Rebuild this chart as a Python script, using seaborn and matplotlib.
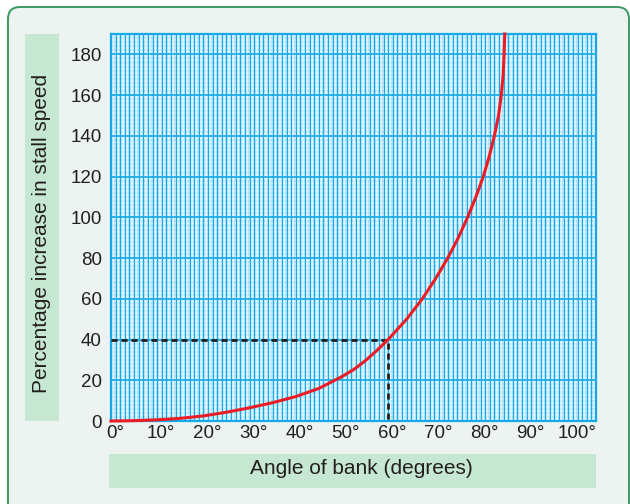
import numpy as np
import pandas as pd
import matplotlib
matplotlib.use("Agg")
import matplotlib.pyplot as plt
import seaborn as sns
from matplotlib.patches import FancyBboxPatch, Rectangle
from matplotlib.transforms import ScaledTranslation, IdentityTransform

# ---- data ----
bank_angle = [0, 5, 10, 15, 20, 25, 30, 35, 40, 45, 50, 52.5, 55, 57.5, 60,
              64.0, 67.4, 70.3, 72.9, 75.2, 77.2, 79.0, 80.6, 81.9, 83.0,
              83.9, 84.5, 84.9, 85.1, 85.25]
stall_increase = [0, 0.15, 0.6, 1.3, 2.5, 4.3, 6.5, 9.0, 12.0, 16.0, 21.8, 25.2,
                  29.5, 34.5, 40, 50, 60, 70, 80, 90, 100, 110, 120, 130, 140,
                  150, 160, 170, 180, 190]
ref_angle = 60
ref_increase = 40
x_ticks = [0, 10, 20, 30, 40, 50, 60, 70, 80, 90, 100]
x_tick_labels = ["0°", "10°", "20°", "30°", "40°", "50°", "60°", "70°", "80°", "90°", "100°"]
y_ticks = [0, 20, 40, 60, 80, 100, 120, 140, 160, 180]
y_tick_labels = ["0", "20", "40", "60", "80", "100", "120", "140", "160", "180"]

df = pd.DataFrame({"angle": bank_angle, "increase": stall_increase})

plt.rcParams["font.family"] = ["Liberation Sans", "DejaVu Sans"]

W, H = 630, 504
fig = plt.figure(figsize=(W / 100, H / 100), dpi=100)
fig.patch.set_facecolor("white")

# outer rounded panel
panel = FancyBboxPatch((8, -20), 621, H - 7 + 20,
                       boxstyle="round,pad=0,rounding_size=12",
                       transform=IdentityTransform(),
                       facecolor="#edf3f0", edgecolor="#3a9a63", linewidth=1.4,
                       zorder=-3)
fig.add_artist(panel)

# label boxes
fig.add_artist(Rectangle((25 / W, 1 - 421 / H), 34 / W, 387 / H,
                         transform=fig.transFigure, facecolor="#c6e7d2",
                         edgecolor="none", zorder=-2))
fig.add_artist(Rectangle((109 / W, 1 - 488 / H), 487 / W, 34 / H,
                         transform=fig.transFigure, facecolor="#c6e7d2",
                         edgecolor="none", zorder=-2))

ax = fig.add_axes([111 / W, 1 - 421 / H, (596 - 111) / W, (421 - 34) / H])
ax.set_zorder(1)
ax.set_facecolor("#a2ddf7")
ax.set_xlim(0, 105)
ax.set_ylim(0, 190)

# light graph-paper stripes
ax.vlines(np.arange(0.5, 105, 1), 0, 1, transform=ax.get_xaxis_transform(),
          colors="white", alpha=0.5, linewidth=1.6, zorder=0.2)
ax.hlines(np.arange(1, 190, 2), 0, 1, transform=ax.get_yaxis_transform(),
          colors="white", alpha=0.38, linewidth=1.6, zorder=0.2)

ax.set_axisbelow(True)
ax.set_xticks(x_ticks)
ax.set_xticks(np.arange(0, 106, 1), minor=True)
ax.set_yticks(y_ticks)
ax.grid(which="both", axis="x", color="#12aaea", linewidth=0.8)
ax.grid(which="major", axis="y", color="#12aaea", linewidth=1.2)

# dashed reference lines
ax.plot([0, ref_angle, ref_angle], [ref_increase, ref_increase, 0],
        linestyle=(0, (2.2, 1.4)), color="#231f20", linewidth=2.0, zorder=4)

sns.lineplot(data=df, x="angle", y="increase", ax=ax, color="#ed1c24",
             linewidth=2.2, zorder=5, clip_on=False, sort=False)

ax.set_xticklabels(x_tick_labels)
ax.set_yticklabels(y_tick_labels)
ax.tick_params(which="both", length=0, labelsize=13.5, labelcolor="#231f20")
ax.tick_params(axis="x", pad=3)
ax.tick_params(axis="y", pad=6.5)
offset = ScaledTranslation(3.8 / 100, 0, fig.dpi_scale_trans)
for lab in ax.get_xticklabels():
    lab.set_transform(lab.get_transform() + offset)

ax.set_xlabel("")
ax.set_ylabel("")
for s in ax.spines.values():
    s.set_color("#12aaea")
    s.set_linewidth(1.6)

fig.text(361 / W, 1 - 469 / H, "Angle of bank (degrees)", ha="center",
         va="center", fontsize=15, color="#231f20")
fig.text(42 / W, 1 - 233 / H, "Percentage increase in stall speed",
         rotation=90, ha="center", va="center", fontsize=15, color="#231f20")

fig.savefig("out.png", dpi=100)
